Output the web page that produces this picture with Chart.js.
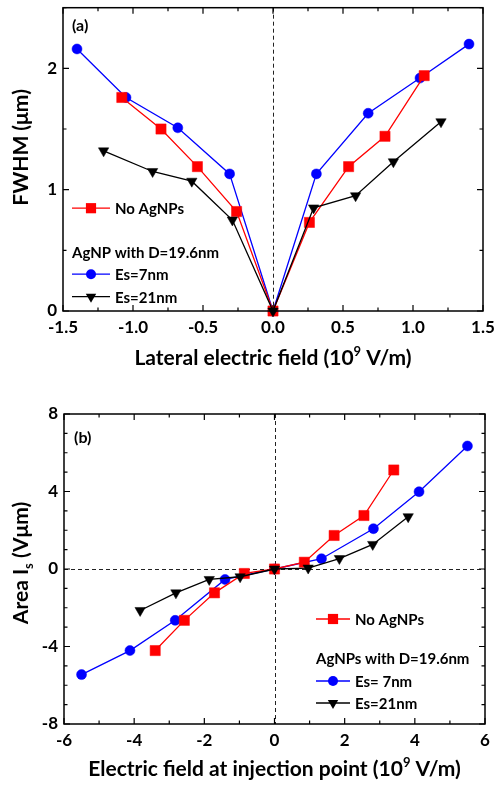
<!DOCTYPE html>
<html><head><meta charset="utf-8">
<script src="https://cdn.jsdelivr.net/npm/chart.js@4.4.0/dist/chart.umd.min.js"></script>
<style>html,body{margin:0;padding:0;background:#fff;}canvas{display:block;}</style>
</head><body>
<canvas id="c1" width="496" height="392"></canvas>
<canvas id="c2" width="496" height="393"></canvas>
<script>
// ---------- Panel (a): FWHM vs lateral electric field ----------
const fwhmNoAgX  = [-1.08, -0.80, -0.54, -0.26, 0, 0.26, 0.54, 0.80, 1.08];
const fwhmNoAgY  = [1.76, 1.50, 1.19, 0.82, 0, 0.73, 1.19, 1.44, 1.94];
const fwhmEs7X   = [-1.40, -1.05, -0.68, -0.31, 0, 0.31, 0.68, 1.05, 1.40];
const fwhmEs7Y   = [2.16, 1.76, 1.51, 1.13, 0, 1.13, 1.63, 1.92, 2.20];
const fwhmEs21X  = [-1.21, -0.86, -0.58, -0.29, 0, 0.29, 0.59, 0.86, 1.20];
const fwhmEs21Y  = [1.32, 1.15, 1.07, 0.75, 0, 0.85, 0.95, 1.23, 1.56];
const xTicksA = [-1.5, -1.0, -0.5, 0, 0.5, 1.0, 1.5];
const yTicksA = [0, 1, 2];
const legendA = ['No AgNPs', 'AgNP with D=19.6nm', 'Es=7nm', 'Es=21nm'];

// ---------- Panel (b): Area I_s vs field at injection point ----------
const areaNoAgX  = [-3.40, -2.57, -1.71, -0.86, 0, 0.85, 1.70, 2.55, 3.40];
const areaNoAgY  = [-4.21, -2.65, -1.23, -0.23, 0, 0.35, 1.73, 2.76, 5.11];
const areaEs7X   = [-5.50, -4.12, -2.83, -1.41, 0, 1.34, 2.82, 4.12, 5.50];
const areaEs7Y   = [-5.45, -4.21, -2.65, -0.54, 0, 0.53, 2.08, 3.99, 6.35];
const areaEs21X  = [-3.83, -2.81, -1.86, -0.98, 0, 0.96, 1.85, 2.80, 3.81];
const areaEs21Y  = [-2.14, -1.23, -0.54, -0.40, 0, 0.05, 0.54, 1.27, 2.70];
const xTicksB = [-6, -4, -2, 0, 2, 4, 6];
const yTicksB = [-8, -4, 0, 4, 8];
const legendB = ['No AgNPs', 'AgNPs with D=19.6nm', 'Es= 7nm', 'Es=21nm'];

const FONT = 'Lato, "Open Sans", sans-serif';
const RED = '#ff0000', BLUE = '#0000ff', BLACK = '#000000';
const CIRC_R = 5.0, RECT_R = 7.2, TRI_R = 6.0;

function pts(xs, ys) { return xs.map((x, i) => ({x: x, y: ys[i]})); }

function ds(label, data, color, style, r, order) {
  return {
    label: label, data: data, showLine: true, borderColor: color, backgroundColor: color,
    borderWidth: 1.3, pointStyle: style, pointRadius: r, pointHoverRadius: r,
    pointBorderColor: color, pointBackgroundColor: color, pointBorderWidth: 0.5,
    pointRotation: style === 'triangle' ? 180 : 0, clip: false, order: order, tension: 0
  };
}

function drawMarker(ctx, style, x, y, color) {
  ctx.save();
  ctx.fillStyle = color;
  ctx.beginPath();
  if (style === 'circle') { ctx.arc(x, y, CIRC_R, 0, Math.PI * 2); }
  else if (style === 'rect') { const h = RECT_R * Math.SQRT1_2; ctx.rect(x - h, y - h, 2 * h, 2 * h); }
  else { const r = TRI_R; ctx.moveTo(x, y + r); ctx.lineTo(x - 0.866 * r, y - 0.5 * r); ctx.lineTo(x + 0.866 * r, y - 0.5 * r); ctx.closePath(); }
  ctx.fill();
  ctx.restore();
}

function partsWidth(ctx, parts, size) {
  let w = 0;
  parts.forEach(p => { ctx.font = 'bold ' + (p[1] === 'n' ? size : Math.round(size * 0.62)) + 'px ' + FONT; w += ctx.measureText(p[0]).width; });
  return w;
}
function drawParts(ctx, parts, size, x, y) {
  parts.forEach(p => {
    const s = p[1] === 'n' ? size : Math.round(size * 0.62);
    ctx.font = 'bold ' + s + 'px ' + FONT;
    const dy = p[1] === 'sup' ? -size * 0.42 : (p[1] === 'sub' ? size * 0.22 : 0);
    ctx.fillText(p[0], x, y + dy);
    x += ctx.measureText(p[0]).width;
  });
}

function makeDecor(cfg) {
  return {
    id: 'decor',
    beforeDatasetsDraw(chart) {
      const ctx = chart.ctx, a = chart.chartArea, sx = chart.scales.x, sy = chart.scales.y;
      ctx.save();
      ctx.strokeStyle = '#222'; ctx.lineWidth = 1; ctx.setLineDash([4, 3]);
      ctx.beginPath();
      const px = Math.round(sx.getPixelForValue(0)) + 0.5;
      ctx.moveTo(px, a.top); ctx.lineTo(px, a.bottom);
      if (cfg.hZero) {
        const py = Math.round(sy.getPixelForValue(0)) + 0.5;
        ctx.moveTo(a.left, py); ctx.lineTo(a.right, py);
      }
      ctx.stroke();
      ctx.restore();
    },
    afterDatasetsDraw(chart) {
      const ctx = chart.ctx, a = chart.chartArea, sx = chart.scales.x, sy = chart.scales.y;
      ctx.save();
      ctx.strokeStyle = '#000'; ctx.lineWidth = 1.5; ctx.setLineDash([]);
      ctx.strokeRect(a.left, a.top, a.right - a.left, a.bottom - a.top);
      ctx.lineWidth = 1.2;
      ctx.beginPath();
      const isMaj = (v, m) => Math.abs(v / m - Math.round(v / m)) < 1e-6;
      for (let v = sx.min; v <= sx.max + 1e-9; v += cfg.xMinor) {
        const p = sx.getPixelForValue(v), L = isMaj(v, cfg.xMajor) ? 6 : 3.5;
        ctx.moveTo(p, a.bottom); ctx.lineTo(p, a.bottom - L);
        ctx.moveTo(p, a.top); ctx.lineTo(p, a.top + L);
      }
      for (let v = sy.min; v <= sy.max + 1e-9; v += cfg.yMinor) {
        const p = sy.getPixelForValue(v), L = isMaj(v, cfg.yMajor) ? 6 : 3.5;
        ctx.moveTo(a.left, p); ctx.lineTo(a.left + L, p);
        ctx.moveTo(a.right, p); ctx.lineTo(a.right - L, p);
      }
      ctx.stroke();

      // legend
      const lg = cfg.legend;
      const LF = 'bold 15px ' + FONT;
      ctx.textBaseline = 'middle'; ctx.textAlign = 'left';
      const x0 = a.left + lg.dx, x1 = x0 + lg.len, xm = (x0 + x1) / 2;
      const rows = [[0, RED, 'rect'], [1, null, null], [2, BLUE, 'circle'], [3, BLACK, 'triangle']];
      rows.forEach(r => {
        const y = a.top + lg.ys[r[0]];
        ctx.fillStyle = '#000'; ctx.font = LF;
        if (r[1]) {
          ctx.strokeStyle = r[1]; ctx.lineWidth = 1.3;
          ctx.beginPath(); ctx.moveTo(x0, y); ctx.lineTo(x1, y); ctx.stroke();
          drawMarker(ctx, r[2], xm, y, r[1]);
          ctx.fillStyle = '#000'; ctx.font = LF;
          ctx.fillText(lg.labels[r[0]], x1 + 5, y + 1);
        } else {
          ctx.fillText(lg.labels[r[0]], x0, y + 1);
        }
      });

      // panel label
      ctx.fillStyle = '#000';
      ctx.font = 'bold 16px ' + FONT; ctx.textBaseline = 'middle';
      ctx.fillText(cfg.panel, a.left + cfg.panelDx, a.top + cfg.panelDy);

      // axis titles
      ctx.textBaseline = 'alphabetic';
      const TS = 21;
      const wx = partsWidth(ctx, cfg.xTitle, TS);
      drawParts(ctx, cfg.xTitle, TS, (a.left + a.right) / 2 - wx / 2, cfg.xTitleY);
      const wy = partsWidth(ctx, cfg.yTitle, TS);
      ctx.save();
      ctx.translate(cfg.yTitleX, (a.top + a.bottom) / 2 + cfg.yTitleDy);
      ctx.rotate(-Math.PI / 2);
      drawParts(ctx, cfg.yTitle, TS, -wy / 2, 0);
      ctx.restore();
      ctx.restore();
    }
  };
}

function makeChart(id, datasets, o) {
  return new Chart(document.getElementById(id), {
    type: 'scatter',
    data: {datasets: datasets},
    options: {
      responsive: false, animation: false, devicePixelRatio: 1,
      layout: {padding: {left: 0, right: o.padRight, top: o.padTop, bottom: 0}},
      plugins: {legend: {display: false}, tooltip: {enabled: false}},
      scales: {
        x: {
          type: 'linear', min: o.xMin, max: o.xMax,
          grid: {display: false, drawTicks: false}, border: {display: false},
          ticks: {autoSkip: false, padding: 6, color: '#000', font: {family: FONT, size: 17, weight: 'bold'}, callback: o.xFmt},
          afterBuildTicks: s => { s.ticks = o.xTicks.map(v => ({value: v})); },
          afterFit: s => { s.height = o.xHeight; s.paddingLeft = 0; s.paddingRight = 0; s.paddingTop = 0; s.paddingBottom = 0; }
        },
        y: {
          type: 'linear', min: o.yMin, max: o.yMax,
          grid: {display: false, drawTicks: false}, border: {display: false},
          ticks: {autoSkip: false, padding: 6, color: '#000', font: {family: FONT, size: 17, weight: 'bold'}, callback: v => String(v)},
          afterBuildTicks: s => { s.ticks = o.yTicks.map(v => ({value: v})); },
          afterFit: s => { s.width = o.yWidth; s.paddingLeft = 0; s.paddingRight = 0; s.paddingTop = 0; s.paddingBottom = 0; }
        }
      }
    },
    plugins: [makeDecor(o.decor)]
  });
}

makeChart('c1', [
  ds(legendA[3], pts(fwhmEs21X, fwhmEs21Y), BLACK, 'triangle', TRI_R, 1),
  ds(legendA[0], pts(fwhmNoAgX, fwhmNoAgY), RED, 'rect', RECT_R, 2),
  ds(legendA[2], pts(fwhmEs7X, fwhmEs7Y), BLUE, 'circle', CIRC_R, 3)
], {
  xMin: -1.5, xMax: 1.5, yMin: 0, yMax: 2.5, xTicks: xTicksA, yTicks: yTicksA,
  xFmt: v => v.toFixed(1), padRight: 13, padTop: 5, xHeight: 81, yWidth: 63,
  decor: {
    hZero: false, xMinor: 0.25, xMajor: 0.5, yMinor: 0.5, yMajor: 1,
    legend: {dx: 9, len: 38, ys: [200.5, 244, 266.5, 289], labels: legendA},
    panel: '(a)', panelDx: 9, panelDy: 18,
    xTitle: [['Lateral electric field (10', 'n'], ['9', 'sup'], [' V/m)', 'n']], xTitleY: 365,
    yTitle: [['FWHM (\u03bcm)', 'n']], yTitleX: 28, yTitleDy: -12
  }
});

makeChart('c2', [
  ds(legendB[3], pts(areaEs21X, areaEs21Y), BLACK, 'triangle', TRI_R, 1),
  ds(legendB[0], pts(areaNoAgX, areaNoAgY), RED, 'rect', RECT_R, 2),
  ds(legendB[2], pts(areaEs7X, areaEs7Y), BLUE, 'circle', CIRC_R, 3)
], {
  xMin: -6, xMax: 6, yMin: -8, yMax: 8, xTicks: xTicksB, yTicks: yTicksB,
  xFmt: v => String(v), padRight: 11, padTop: 22, xHeight: 61, yWidth: 64,
  decor: {
    hZero: true, xMinor: 1, xMajor: 2, yMinor: 1, yMajor: 4,
    legend: {dx: 252, len: 34, ys: [205, 244, 267, 289], labels: legendB},
    panel: '(b)', panelDx: 10, panelDy: 24,
    xTitle: [['Electric field at injection point (10', 'n'], ['9', 'sup'], [' V/m)', 'n']], xTitleY: 384,
    yTitle: [['Area I', 'n'], ['s', 'sub'], [' (V\u03bcm)', 'n']], yTitleX: 28, yTitleDy: -6
  }
});
</script>
</body></html>
